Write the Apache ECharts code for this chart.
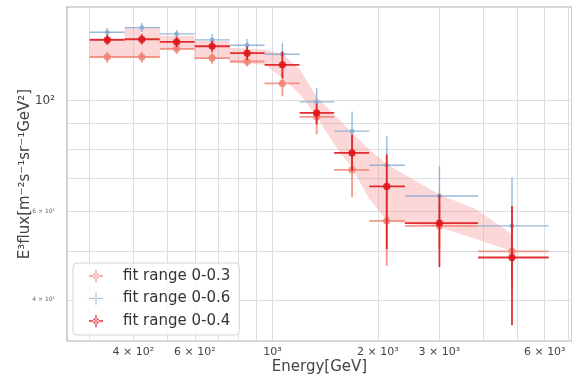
<!DOCTYPE html>
<html>
<head>
<meta charset="utf-8">
<script src="https://cdn.jsdelivr.net/npm/echarts@6/dist/echarts.min.js"></script>
<style>
html,body{margin:0;padding:0;background:#fff;}
#chart{width:572px;height:380px;}
</style>
</head>
<body>
<div id="chart"></div>
<script>
// ---- data ----
const energy  = [337, 423, 532, 672, 846, 1067, 1337, 1688, 2121, 3000, 4837];
const binLow  = [300, 378, 476, 599, 756, 949, 1195, 1500, 1890, 2390, 3868];
const binHigh = [378, 476, 599, 756, 949, 1195, 1500, 1890, 2390, 3868, 6163];

const fit03     = [122.2, 122.2, 126.9, 121.6, 119.7, 108.2, 92.8, 72.7, 57.5, 56.2, 50.0];
const fit03Low  = [119.0, 119.0, 124.0, 118.5, 117.0, 102.0, 85.6, 64.2, 46.8, 50.5, 42.1];
const fit03High = [125.1, 125.1, 129.2, 124.6, 122.5, 113.7, 96.8, 79.9, 65.0, 62.1, 56.7];

const fit06     = [136.9, 139.9, 135.9, 132.2, 129.0, 123.8, 99.4, 86.9, 74.3, 64.5, 56.2];
const fit06Low  = [134.7, 137.1, 133.4, 129.2, 126.3, 117.4, 93.8, 79.9, 64.2, 55.9, 45.1];
const fit06High = [139.7, 142.9, 138.4, 135.9, 132.8, 130.2, 106.0, 95.1, 84.9, 74.0, 70.2];

const fit04     = [132.2, 132.6, 131.0, 128.4, 124.4, 117.9, 94.5, 78.6, 67.4, 56.9, 48.6];
const fit04Low  = [129.2, 129.5, 128.0, 125.1, 120.6, 110.9, 89.6, 72.3, 50.5, 46.5, 35.6];
const fit04High = [135.3, 135.6, 134.1, 131.6, 128.2, 125.3, 98.6, 85.6, 78.1, 65.0, 61.6];

const bandE    = [300, 378, 378, 477, 477, 597, 597, 753, 753, 950, 1066, 1198, 1336, 1500, 1685, 1892, 2125, 2512, 2989, 3817, 4814];
const bandHigh = [133.4, 133.4, 139.7, 139.7, 134.7, 134.7, 131.6, 131.6, 127.5, 126.3, 124.0, 115.2, 101.8, 93.8, 86.4, 79.9, 74.6, 69.7, 65.0, 60.7, 54.2];
const bandLow  = [122.3, 122.3, 122.3, 122.3, 126.3, 126.3, 121.2, 121.2, 119.0, 117.9, 111.1, 102.8, 92.9, 81.8, 73.6, 63.6, 57.5, 56.7, 55.9, 52.9, 50.1];

const xGridValues = [300, 400, 500, 600, 700, 800, 900, 1000, 2000, 3000, 4000, 5000, 6000, 7000];
const xTickValues = [400, 600, 1000, 2000, 3000, 6000];
const xTickLabels = ['4 × 10²', '6 × 10²', '10³', '2 × 10³', '3 × 10³', '6 × 10³'];
const yGridValues = [40, 50, 60, 70, 80, 90, 100];
const yTickValues = [40, 60, 100];
const yTickLabels = ['4 × 10¹', '6 × 10¹', '10²'];
const yTickMajor  = [false, false, true];

const xRange = [258.5, 7180];
const yRange = [33.1, 153.8];

// ---- helpers ----
const L = Math.log10;
function findLabel(val, values) {
  const v = Math.pow(10, val);
  for (let i = 0; i < values.length; i++) {
    if (Math.abs(v - values[i]) / values[i] < 0.01) return i;
  }
  return -1;
}
function errData(y, lo, hi) {
  return energy.map((e, i) => [L(e), L(y[i]), L(binLow[i]), L(binHigh[i]), L(lo[i]), L(hi[i])]);
}
function errRender(color, lw, r) {
  return function (params, api) {
    const xc = api.value(0), yc = api.value(1), xl = api.value(2), xh = api.value(3), yl = api.value(4), yh = api.value(5);
    const pL = api.coord([xl, yc]), pR = api.coord([xh, yc]);
    const pB = api.coord([xc, yl]), pT = api.coord([xc, yh]);
    const pC = api.coord([xc, yc]);
    return {
      type: 'group',
      children: [
        {type: 'line', shape: {x1: pL[0], y1: pL[1], x2: pR[0], y2: pR[1]}, style: {stroke: color, lineWidth: lw}},
        {type: 'line', shape: {x1: pB[0], y1: pB[1], x2: pT[0], y2: pT[1]}, style: {stroke: color, lineWidth: lw}},
        {type: 'circle', shape: {cx: pC[0], cy: pC[1], r: r}, style: {fill: color}}
      ]
    };
  };
}

const cLight = 'rgba(240,128,110,0.8)';
const cBlue  = 'rgba(128,168,210,0.8)';
const cRed   = 'rgba(222,20,24,0.88)';
const iconPath = 'path://M0,6.25h16v1.5h-16z M7.25,0h1.5v14h-1.5z M4.6,7a3.4,3.4 0 1,0 6.8,0a3.4,3.4 0 1,0 -6.8,0z';
const iconPathSmall = 'path://M0,6.4h16v1.2h-16z M7.4,0h1.2v14h-1.2z M6,7a2,2 0 1,0 4,0a2,2 0 1,0 -4,0z';

const bandData = bandE.map((e, i) => [L(e), L(bandHigh[i]), L(bandLow[i])]);

const chart = echarts.init(document.getElementById('chart'), null, {renderer: 'canvas'});
chart.setOption({
  animation: false,
  backgroundColor: '#fff',
  textStyle: {fontFamily: 'DejaVu Sans'},
  grid: {left: 67, right: -11, top: 7, bottom: 37.5, show: true, borderColor: '#b0b0b0', borderWidth: 1.2, containLabel: false},
  xAxis: {
    type: 'value',
    min: L(xRange[0]), max: L(xRange[1]),
    name: 'Energy[GeV]', nameLocation: 'middle', nameGap: 19, nameMoveOverlap: false,
    nameTextStyle: {fontSize: 15, color: '#444', fontFamily: 'DejaVu Sans'},
    axisLine: {show: false},
    axisTick: {show: false, customValues: xGridValues.map(L)},
    splitLine: {show: true, lineStyle: {color: '#dadde1', width: 1}},
    axisLabel: {
      customValues: xTickValues.map(L),
      margin: 6, fontSize: 11, color: '#444', fontFamily: 'DejaVu Sans',
      formatter: function (val) { const i = findLabel(val, xTickValues); return i >= 0 ? xTickLabels[i] : ''; }
    }
  },
  yAxis: {
    type: 'value',
    min: L(yRange[0]), max: L(yRange[1]),
    name: 'E³flux[m⁻²s⁻¹sr⁻¹GeV²]', nameLocation: 'middle', nameGap: 34, nameRotate: 90, nameMoveOverlap: false,
    nameTextStyle: {fontSize: 15, color: '#444', fontFamily: 'DejaVu Sans'},
    axisLine: {show: false},
    axisTick: {show: false, customValues: yGridValues.map(L)},
    splitLine: {show: true, lineStyle: {color: '#dadde1', width: 1}},
    axisLabel: {
      customValues: yTickValues.map(L),
      margin: 12, color: '#444', fontFamily: 'DejaVu Sans',
      formatter: function (val) {
        const i = findLabel(val, yTickValues);
        if (i < 0) return '';
        return (yTickMajor[i] ? '{big|' : '{small|') + yTickLabels[i] + '}';
      },
      rich: {big: {fontSize: 12, color: '#444'}, small: {fontSize: 6, color: '#666'}}
    }
  },
  legend: {
    orient: 'vertical', left: 73, top: 263,
    backgroundColor: 'rgba(255,255,255,0.85)', borderColor: '#d4d4d4', borderWidth: 1, borderRadius: 4,
    padding: [5, 9, 6, 16], itemGap: 6.5, itemWidth: 14, itemHeight: 13,
    textStyle: {fontSize: 15, color: '#333', fontFamily: 'DejaVu Sans', padding: [0, 0, 0, 15], lineHeight: 16},
    data: [
      {name: 'fit range 0-0.3', icon: iconPath},
      {name: 'fit range 0-0.6', icon: iconPathSmall},
      {name: 'fit range 0-0.4', icon: iconPath}
    ]
  },
  series: [
    {
      name: 'band', type: 'custom', data: bandData, clip: true, silent: true,
      encode: {x: 0, y: [1, 2]},
      renderItem: function (params, api) {
        if (params.dataIndex !== 0) return null;
        const pts = [];
        for (let i = 0; i < bandData.length; i++) pts.push(api.coord([bandData[i][0], bandData[i][1]]));
        for (let i = bandData.length - 1; i >= 0; i--) pts.push(api.coord([bandData[i][0], bandData[i][2]]));
        return {type: 'polygon', shape: {points: pts}, style: {fill: 'rgba(246,160,160,0.42)'}};
      }
    },
    {
      name: 'fit range 0-0.3', type: 'custom', data: errData(fit03, fit03Low, fit03High), clip: true,
      itemStyle: {color: cLight}, encode: {x: [0, 2, 3], y: [1, 4, 5]},
      renderItem: errRender(cLight, 1.8, 3.6)
    },
    {
      name: 'fit range 0-0.6', type: 'custom', data: errData(fit06, fit06Low, fit06High), clip: true,
      itemStyle: {color: cBlue}, encode: {x: [0, 2, 3], y: [1, 4, 5]},
      renderItem: errRender(cBlue, 1.4, 2.4)
    },
    {
      name: 'fit range 0-0.4', type: 'custom', data: errData(fit04, fit04Low, fit04High), clip: true,
      itemStyle: {color: cRed}, encode: {x: [0, 2, 3], y: [1, 4, 5]},
      renderItem: errRender(cRed, 1.8, 3.6)
    }
  ]
});
</script>
</body>
</html>
